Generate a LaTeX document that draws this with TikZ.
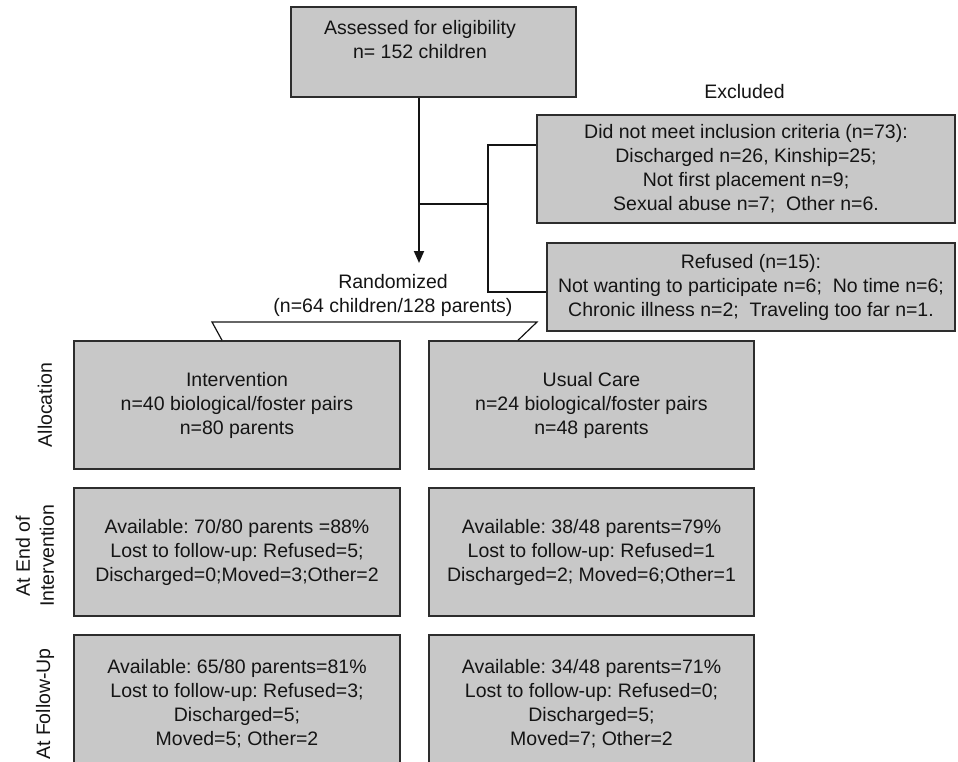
\documentclass[tikz,border=0pt]{standalone}
\usepackage{fontspec}
\setmainfont{Liberation Sans}
\usetikzlibrary{arrows.meta}
\definecolor{boxgray}{RGB}{200,200,200}
\definecolor{edgegray}{RGB}{45,45,45}
\definecolor{inkblack}{RGB}{20,20,20}

\begin{document}
\frenchspacing
\begin{tikzpicture}[
    x=1pt, y=-1pt,
    every node/.style={font=\fontsize{19.5}{24}\selectfont, text=inkblack, align=center, inner sep=0pt},
    box/.style={rectangle, draw=edgegray, line width=1.5pt, fill=boxgray},
    side/.style={rotate=90},
    arrow/.style={-{Triangle[length=12pt,width=10pt]}, line width=1.8pt, draw=inkblack},
    link/.style={line width=1.2pt, draw=inkblack}
]
\useasboundingbox (0,0) rectangle (958,761);

% screening
\node[box, minimum width=285, minimum height=90] (assess) at (433.5,52) {};
\node (assesstxt) at (420,40) {Assessed for eligibility\\n= 152 children};
\coordinate (tip) at (419,263);
\coordinate (split) at (419,204);
\coordinate (bus) at (488,204);

% exclusions
\node (exlabel) at (744.5,92) {Excluded};
\node[box, minimum width=418, minimum height=108] (excl1) at (746,169)
    {Did not meet inclusion criteria (n=73):\\Discharged n=26, Kinship=25;\\Not first placement n=9;\\Sexual abuse n=7;\ \ Other n=6.};
\node[box, minimum width=408, minimum height=88] (excl2) at (751,287)
    {Refused (n=15):\\Not wanting to participate n=6;\ \ No time n=6;\\Chronic illness n=2;\ \ Traveling too far n=1.};

\node (rand) at (393,295) {Randomized\\(n=64 children/128 parents)};

% study arms
\node[box, minimum width=326, minimum height=128] (intv) at (237,405)
    {Intervention\\n=40 biological/foster pairs\\n=80 parents};
\node[box, minimum width=325, minimum height=128] (usual) at (591.5,405)
    {Usual Care\\n=24 biological/foster pairs\\n=48 parents};
\node[box, minimum width=326, minimum height=128] (intvend) at (237,552)
    {Available: 70/80 parents =88\%\\Lost to follow-up: Refused=5;\\Discharged=0;Moved=3;Other=2};
\node[box, minimum width=325, minimum height=128] (usualend) at (591.5,552)
    {Available: 38/48 parents=79\%\\Lost to follow-up: Refused=1\\Discharged=2; Moved=6;Other=1};
\node[box, minimum width=326, minimum height=137] (intvfu) at (237,703.5)
    {Available: 65/80 parents=81\%\\Lost to follow-up: Refused=3;\\Discharged=5;\\Moved=5; Other=2};
\node[box, minimum width=325, minimum height=137] (usualfu) at (591.5,703.5)
    {Available: 34/48 parents=71\%\\Lost to follow-up: Refused=0;\\Discharged=5;\\Moved=7; Other=2};

% row labels
\node[side] (lalloc) at (45,405) {Allocation};
\node[side] (lend) at (35,556) {At End of\\Intervention};
\node[side] (lfollow) at (45,704) {At Follow-Up};

% connectors
\draw[arrow] (assess.south -| tip) -- (tip);
\draw[link] (split) -- (bus);
\draw[link] (excl1.west |- 0,145) -| (bus) |- (excl2.west |- 0,292);
\draw[link] (intv.north -| 222,0) -- (212,322) -- (537,322) -- (usual.north -| 518,0);

\end{tikzpicture}
\end{document}
